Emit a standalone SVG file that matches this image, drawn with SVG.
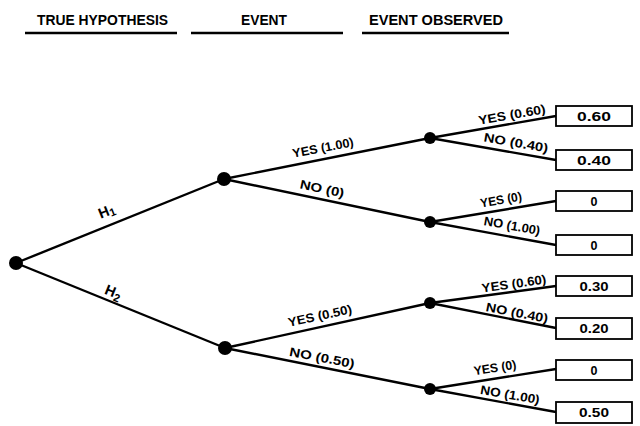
<svg xmlns="http://www.w3.org/2000/svg" width="640" height="426" viewBox="0 0 640 426">
<style>
.hdr{font-family:"Liberation Sans",Arial,sans-serif;font-weight:bold;font-size:14.5px;fill:#000}
.ul{stroke:#000;stroke-width:2.4}
.edge{stroke:#000;stroke-width:2.4;fill:none}
.lbl{font-family:"Liberation Sans",Arial,sans-serif;font-weight:bold;font-size:12.5px;fill:#000;text-anchor:middle}
.hl{font-size:14.5px}
.sub{font-size:11px}
.box{fill:#fff;stroke:#000;stroke-width:1.8}
.val{font-family:"Liberation Sans",Arial,sans-serif;font-weight:bold;font-size:12.5px;fill:#000;text-anchor:middle}
.dot{fill:#000}
</style>
<rect width="640" height="426" fill="#fff"/>
<g id="headers">
<text class="hdr" x="37" y="25" textLength="131" lengthAdjust="spacingAndGlyphs">TRUE HYPOTHESIS</text>
<line class="ul" x1="25" y1="33" x2="177" y2="33"/>
<text class="hdr" x="241" y="25" textLength="46" lengthAdjust="spacingAndGlyphs">EVENT</text>
<line class="ul" x1="191" y1="33" x2="343" y2="33"/>
<text class="hdr" x="369" y="25" textLength="134" lengthAdjust="spacingAndGlyphs">EVENT OBSERVED</text>
<line class="ul" x1="362" y1="33" x2="509" y2="33"/>
</g>
<g id="connectors">
<line class="edge" x1="16" y1="263" x2="224" y2="179"/>
<line class="edge" x1="16" y1="263" x2="225" y2="348"/>
<line class="edge" x1="224" y1="179" x2="430" y2="138"/>
<line class="edge" x1="224" y1="179" x2="430" y2="222"/>
<line class="edge" x1="225" y1="348" x2="430" y2="303"/>
<line class="edge" x1="225" y1="348" x2="430" y2="389"/>
<line class="edge" x1="430" y1="138" x2="556" y2="116"/>
<line class="edge" x1="430" y1="138" x2="556" y2="160"/>
<line class="edge" x1="430" y1="222" x2="556" y2="201"/>
<line class="edge" x1="430" y1="222" x2="556" y2="245"/>
<line class="edge" x1="430" y1="303" x2="556" y2="286"/>
<line class="edge" x1="430" y1="303" x2="556" y2="328"/>
<line class="edge" x1="430" y1="389" x2="556" y2="369"/>
<line class="edge" x1="430" y1="389" x2="556" y2="412"/>
<text class="lbl hl" transform="translate(107,212) rotate(-22)" y="4">H<tspan class="sub" dy="2">1</tspan></text>
<text class="lbl hl" transform="translate(113,293) rotate(22)" y="4">H<tspan class="sub" dy="3">2</tspan></text>
<text class="lbl" transform="translate(323,148) rotate(-11)" y="4" textLength="62" lengthAdjust="spacingAndGlyphs">YES (1.00)</text>
<text class="lbl" transform="translate(322,189) rotate(12)" y="4" textLength="45" lengthAdjust="spacingAndGlyphs">NO (0)</text>
<text class="lbl" transform="translate(320,316) rotate(-12)" y="4" textLength="65" lengthAdjust="spacingAndGlyphs">YES (0.50)</text>
<text class="lbl" transform="translate(322,358) rotate(11)" y="4" textLength="66" lengthAdjust="spacingAndGlyphs">NO (0.50)</text>
<text class="lbl" transform="translate(512,115) rotate(-10)" y="4" textLength="68" lengthAdjust="spacingAndGlyphs">YES (0.60)</text>
<text class="lbl" transform="translate(516,143) rotate(10)" y="4" textLength="65" lengthAdjust="spacingAndGlyphs">NO (0.40)</text>
<text class="lbl" transform="translate(501,200) rotate(-10)" y="4" textLength="42" lengthAdjust="spacingAndGlyphs">YES (0)</text>
<text class="lbl" transform="translate(512,226) rotate(10)" y="4" textLength="57" lengthAdjust="spacingAndGlyphs">NO (1.00)</text>
<text class="lbl" transform="translate(514,284) rotate(-8)" y="4" textLength="65" lengthAdjust="spacingAndGlyphs">YES (0.60)</text>
<text class="lbl" transform="translate(517,313) rotate(11)" y="4" textLength="63" lengthAdjust="spacingAndGlyphs">NO (0.40)</text>
<text class="lbl" transform="translate(495,368) rotate(-9)" y="4" textLength="43" lengthAdjust="spacingAndGlyphs">YES (0)</text>
<text class="lbl" transform="translate(510,395) rotate(10)" y="4" textLength="60" lengthAdjust="spacingAndGlyphs">NO (1.00)</text>
</g>
<g id="root"><circle class="dot" cx="16" cy="263" r="7"/></g>
<g id="h1"><circle class="dot" cx="224" cy="179" r="7"/></g>
<g id="h2"><circle class="dot" cx="225" cy="348" r="7"/></g>
<g id="e1"><circle class="dot" cx="430" cy="138" r="6"/></g>
<g id="e2"><circle class="dot" cx="430" cy="222" r="6"/></g>
<g id="e3"><circle class="dot" cx="430" cy="303" r="6"/></g>
<g id="e4"><circle class="dot" cx="430" cy="389" r="6"/></g>
<g id="o1"><rect class="box" x="556" y="106" width="76" height="20"/><text class="val" x="594" y="121" textLength="34" lengthAdjust="spacingAndGlyphs">0.60</text></g>
<g id="o2"><rect class="box" x="556" y="150" width="76" height="20"/><text class="val" x="594" y="165" textLength="34" lengthAdjust="spacingAndGlyphs">0.40</text></g>
<g id="o3"><rect class="box" x="556" y="191" width="76" height="20"/><text class="val" x="594" y="206">0</text></g>
<g id="o4"><rect class="box" x="556" y="235" width="76" height="20"/><text class="val" x="594" y="250">0</text></g>
<g id="o5"><rect class="box" x="556" y="276" width="76" height="20"/><text class="val" x="594" y="291" textLength="29" lengthAdjust="spacingAndGlyphs">0.30</text></g>
<g id="o6"><rect class="box" x="556" y="318" width="76" height="21"/><text class="val" x="594" y="333" textLength="29" lengthAdjust="spacingAndGlyphs">0.20</text></g>
<g id="o7"><rect class="box" x="556" y="360" width="76" height="20"/><text class="val" x="594" y="375">0</text></g>
<g id="o8"><rect class="box" x="556" y="402" width="76" height="21"/><text class="val" x="594" y="417" textLength="30" lengthAdjust="spacingAndGlyphs">0.50</text></g>
</svg>
